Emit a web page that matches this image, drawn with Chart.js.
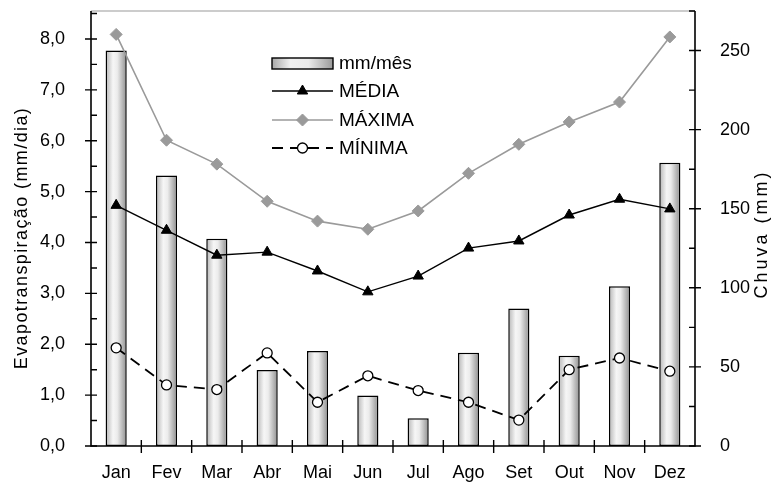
<!DOCTYPE html>
<html>
<head>
<meta charset="utf-8">
<script src="https://cdn.jsdelivr.net/npm/chart.js@4"></script>
<style>
  html, body { margin: 0; padding: 0; background: #fff; }
  #wrap { width: 776px; height: 491px; }
</style>
</head>
<body>
<div id="wrap"><canvas id="myChart" width="776" height="491"></canvas></div>
<script>
const meses = ['Jan', 'Fev', 'Mar', 'Abr', 'Mai', 'Jun', 'Jul', 'Ago', 'Set', 'Out', 'Nov', 'Dez'];
const chuva = [250, 171, 131, 48, 60, 32, 17.5, 59, 87, 57, 101, 179];
const media = [4.73, 4.24, 3.75, 3.81, 3.44, 3.03, 3.34, 3.89, 4.03, 4.54, 4.85, 4.66];
const maxima = [8.09, 6.01, 5.54, 4.81, 4.42, 4.26, 4.62, 5.36, 5.93, 6.37, 6.76, 8.04];
const minima = [1.93, 1.20, 1.11, 1.83, 0.86, 1.38, 1.09, 0.86, 0.51, 1.50, 1.73, 1.47];
const etTicks = [0, 1, 2, 3, 4, 5, 6, 7, 8];
const chuvaTicks = [0, 50, 100, 150, 200, 250];

const FONT = '"Liberation Sans", Arial, sans-serif';
const barPct = 0.42;

const barFill = (c) => {
    const chart = c.chart;
    const xs = chart.scales.x;
    if (!xs || c.dataIndex === undefined) return '#e0e0e0';
    const cx = xs.getPixelForValue(c.dataIndex);
    const w = (xs.width / meses.length) * barPct;
    if (!isFinite(cx) || !isFinite(w) || w <= 0) return '#e0e0e0';
    const g = chart.ctx.createLinearGradient(cx - w / 2, 0, cx + w / 2, 0);
    g.addColorStop(0, '#b4b4b4');
    g.addColorStop(0.35, '#f6f6f6');
    g.addColorStop(0.55, '#ececec');
    g.addColorStop(1, '#8e8e8e');
    return g;
};

const noPad = (s) => {
    s.paddingTop = 0;
    s.paddingBottom = 0;
};

// frame, ticks, axis titles and legend
const extras = {
    id: 'extras',
    afterDatasetsDraw(chart) {
        const ctx = chart.ctx;
        const a = chart.chartArea;
        const yl = chart.scales.y;
        const yr = chart.scales.y2;
        const xs = chart.scales.x;
        ctx.save();
        // frame
        ctx.lineWidth = 1.2;
        ctx.strokeStyle = '#9a9a9a';
        ctx.beginPath(); ctx.moveTo(a.left, a.top); ctx.lineTo(a.right, a.top); ctx.stroke();
        ctx.strokeStyle = '#000';
        ctx.lineWidth = 1.6;
        ctx.beginPath();
        ctx.moveTo(a.left, a.top); ctx.lineTo(a.left, a.bottom); ctx.lineTo(a.right, a.bottom); ctx.lineTo(a.right, a.top);
        ctx.stroke();
        // ticks
        ctx.lineWidth = 1.4;
        ctx.beginPath();
        for (let v = 0; v <= 8.5; v += 0.5) {
            const y = yl.getPixelForValue(v);
            const major = Math.abs(v - Math.round(v)) < 1e-6;
            ctx.moveTo(major ? a.left - 6 : a.left, y);
            ctx.lineTo(a.left + 6, y);
        }
        for (let v = 0; v <= 275; v += 25) {
            const y = yr.getPixelForValue(v);
            const major = v % 50 === 0;
            ctx.moveTo(a.right - 6, y);
            ctx.lineTo(major ? a.right + 6 : a.right, y);
        }
        const step = xs.width / meses.length;
        for (let i = 1; i < meses.length; i++) {
            const x = xs.getPixelForValue(i) - step / 2;
            ctx.moveTo(x, a.bottom - 6);
            ctx.lineTo(x, a.bottom + 7);
        }
        ctx.stroke();
        // axis titles
        ctx.fillStyle = '#000';
        ctx.font = '18px ' + FONT;
        ctx.textAlign = 'center';
        ctx.textBaseline = 'middle';
        if ('letterSpacing' in ctx) ctx.letterSpacing = '1.4px';
        ctx.save();
        ctx.translate(22, 238);
        ctx.rotate(-Math.PI / 2);
        ctx.fillText('Evapotranspiração (mm/dia)', 0, 0);
        ctx.restore();
        if ('letterSpacing' in ctx) ctx.letterSpacing = '3px';
        ctx.save();
        ctx.translate(762, 234);
        ctx.rotate(-Math.PI / 2);
        ctx.fillText('Chuva (mm)', 0, 0);
        ctx.restore();
        if ('letterSpacing' in ctx) ctx.letterSpacing = '0px';
        // legend
        const lx = 272, lw = 61, tx = 339;
        const rows = [63, 91, 120, 148];
        ctx.textAlign = 'left';
        ctx.font = '19px ' + FONT;
        chart.data.datasets.forEach((ds, i) => {
            const y = rows[i];
            if (ds.type === 'bar') {
                const g = ctx.createLinearGradient(lx, 0, lx + lw, 0);
                g.addColorStop(0, '#a8a8a8');
                g.addColorStop(0.3, '#f0f0f0');
                g.addColorStop(0.6, '#eaeaea');
                g.addColorStop(1, '#9a9a9a');
                ctx.fillStyle = g;
                ctx.fillRect(lx, y - 5, lw, 11);
                ctx.strokeStyle = '#000';
                ctx.lineWidth = 1.4;
                ctx.strokeRect(lx, y - 5, lw, 11);
            } else {
                ctx.strokeStyle = ds.borderColor;
                ctx.lineWidth = ds.borderWidth;
                ctx.setLineDash(ds.borderDash || []);
                ctx.beginPath(); ctx.moveTo(lx, y); ctx.lineTo(lx + lw, y); ctx.stroke();
                ctx.setLineDash([]);
                ctx.fillStyle = ds.pointBackgroundColor;
                ctx.strokeStyle = ds.pointBorderColor;
                ctx.lineWidth = ds.pointBorderWidth;
                Chart.helpers.drawPoint(ctx, {
                    pointStyle: ds.pointStyle,
                    radius: ds.pointRadius,
                    rotation: 0,
                    borderWidth: ds.pointBorderWidth
                }, lx + lw / 2, y);
            }
            ctx.fillStyle = '#000';
            ctx.fillText(ds.label, tx, y + 1);
        });
        ctx.restore();
    }
};

const renderChart = () => {
    const ctx = document.getElementById('myChart');
    new Chart(ctx, {
        data: {
            labels: meses,
            datasets: [
                {
                    type: 'bar',
                    label: 'mm/mês',
                    data: chuva,
                    yAxisID: 'y2',
                    backgroundColor: barFill,
                    borderColor: '#000',
                    borderWidth: 1.5,
                    borderSkipped: false,
                    barPercentage: 1,
                    categoryPercentage: barPct,
                    order: 10
                },
                {
                    type: 'line',
                    label: 'MÉDIA',
                    data: media,
                    yAxisID: 'y',
                    borderColor: '#000',
                    borderWidth: 1.4,
                    pointStyle: 'triangle',
                    pointRadius: 6,
                    pointBackgroundColor: '#000',
                    pointBorderColor: '#000',
                    pointBorderWidth: 1,
                    order: 2
                },
                {
                    type: 'line',
                    label: 'MÁXIMA',
                    data: maxima,
                    yAxisID: 'y',
                    borderColor: '#9a9a9a',
                    borderWidth: 1.6,
                    pointStyle: 'rectRot',
                    pointRadius: 6,
                    pointBackgroundColor: '#9a9a9a',
                    pointBorderColor: '#9a9a9a',
                    pointBorderWidth: 1,
                    order: 3
                },
                {
                    type: 'line',
                    label: 'MÍNIMA',
                    data: minima,
                    yAxisID: 'y',
                    borderColor: '#000',
                    borderWidth: 1.8,
                    borderDash: [11, 7],
                    pointStyle: 'circle',
                    pointRadius: 5,
                    pointBackgroundColor: '#fff',
                    pointBorderColor: '#000',
                    pointBorderWidth: 1.3,
                    order: 1
                }
            ]
        },
        options: {
            responsive: false,
            animation: false,
            events: [],
            layout: { padding: { top: 11, left: 0, right: 0, bottom: 0 } },
            plugins: {
                legend: { display: false },
                tooltip: { enabled: false }
            },
            scales: {
                x: {
                    offset: true,
                    grid: { display: false },
                    border: { display: false },
                    ticks: {
                        color: '#000',
                        font: { family: FONT, size: 18 },
                        padding: 8,
                        maxRotation: 0
                    },
                    afterFit: (s) => { s.height = 45; s.paddingLeft = 0; s.paddingRight = 0; }
                },
                y: {
                    position: 'left',
                    min: 0,
                    max: 8.55,
                    grid: { display: false },
                    border: { display: false },
                    afterBuildTicks: (s) => { s.ticks = etTicks.map(v => ({ value: v })); },
                    ticks: {
                        color: '#000',
                        font: { family: FONT, size: 18 },
                        padding: 18,
                        callback: (v) => v.toFixed(1).replace('.', ',')
                    },
                    afterFit: (s) => { s.width = 91; noPad(s); }
                },
                y2: {
                    position: 'right',
                    min: 0,
                    max: 275,
                    grid: { display: false },
                    border: { display: false },
                    afterBuildTicks: (s) => { s.ticks = chuvaTicks.map(v => ({ value: v })); },
                    ticks: {
                        color: '#000',
                        font: { family: FONT, size: 18 },
                        padding: 17
                    },
                    afterFit: (s) => { s.width = 81; noPad(s); }
                }
            }
        },
        plugins: [extras]
    });
};
renderChart();
</script>
</body>
</html>
